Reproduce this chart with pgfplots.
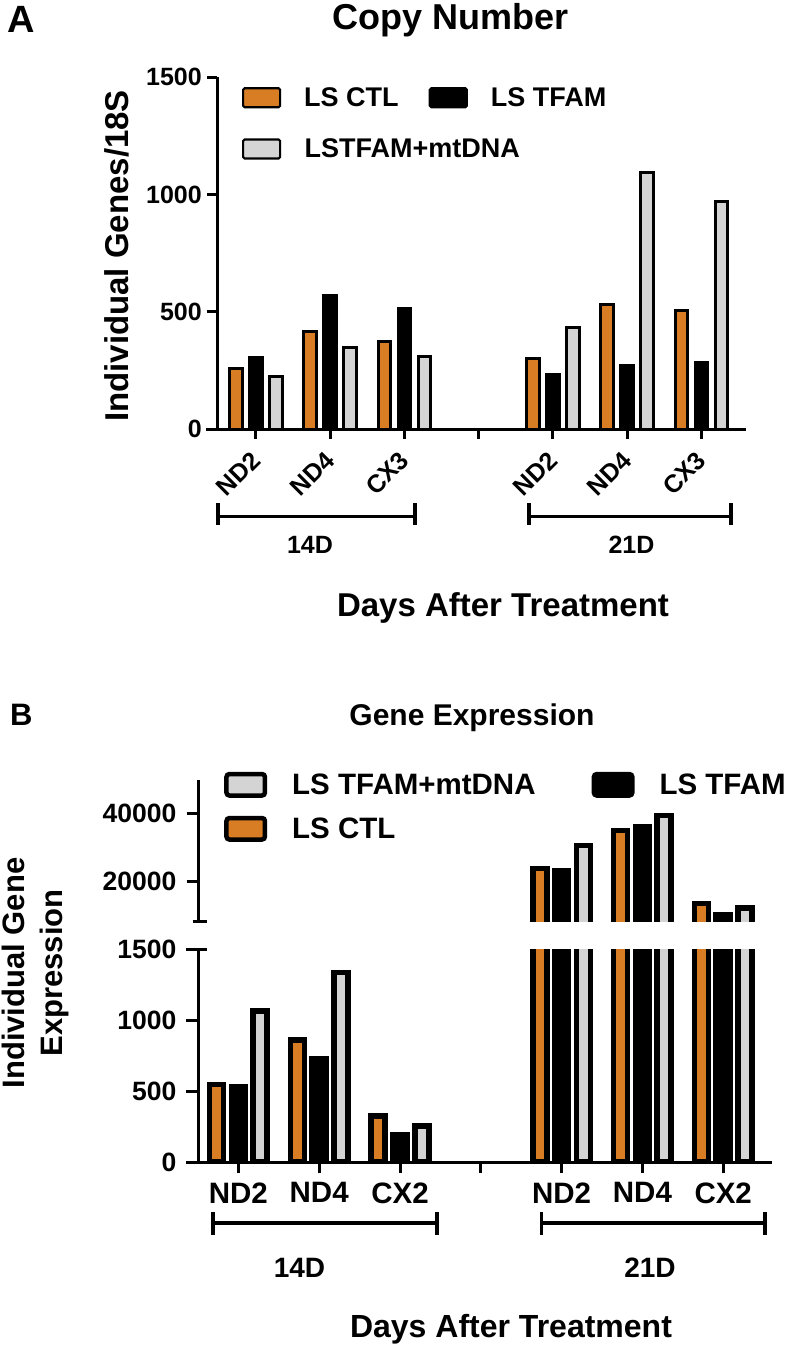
\documentclass[border=0pt]{standalone}
\usepackage{pgfplots}
\pgfplotsset{compat=1.18}
\usepackage{fontspec}
\setmainfont{Liberation Sans}
\definecolor{ctl}{RGB}{216,125,35}
\definecolor{gry}{RGB}{212,212,212}
\newcommand{\fs}[1]{\bfseries\fontsize{#1}{#1}\selectfont}
\pgfplotsset{
  every non boxed x axis/.style={},
  every non boxed y axis/.style={},
  swatchA/.style={legend image code/.code={\draw[##1, line width=2.2pt, rounded corners=1.5pt] (0pt,-9.5pt) rectangle (37pt,9.5pt);}},
  swatchB/.style={legend image code/.code={\draw[##1, line width=4.5pt, rounded corners=3pt] (0pt,-10.75pt) rectangle (38.5pt,10.75pt);}},
  common/.style={
    scale only axis,
    axis line style={-, line width=3pt},
    tick align=outside,
    tick style={line width=3pt, black},
    scaled y ticks=false,
    /pgf/number format/assume math mode=true,
    clip=true,
  },
}
\begin{document}
\begin{tikzpicture}
% ---------------- Panel A ----------------
\begin{axis}[common,
  at={(217pt,-429pt)}, anchor=south west,
  width=529pt, height=351.7pt,
  xmin=-0.525, xmax=6.6, ymin=0, ymax=1500,
  axis x line=bottom, axis y line=left,
  x axis line style={-}, y axis line style={-},
  major tick length=10pt,
  xtick={0,1,2,3,4,5,6}, xticklabels={ND2,ND4,CX3,,ND2,ND4,CX3},
  ytick={0,500,1000,1500}, yticklabels={0,500,1000,1500},
  yticklabel style={font=\fs{25}, anchor=east, inner sep=0pt},
  yticklabel shift=5pt,
  xticklabel style={font=\fs{25}, rotate=45, anchor=east, inner sep=0pt},
  xticklabel shift=17pt,
  ylabel={Individual Genes/18S},
  ylabel style={at={(axis description cs:-0.1664,0.4919)}, anchor=base, font=\fs{33}, inner sep=0pt},
  legend columns=2, legend cell align=left,
  legend style={at={(axis description cs:0.0473,0.972)}, anchor=north west, draw=none, fill=none,
    inner sep=0pt, outer sep=0pt, font=\fs{27}, row sep=30pt, nodes={inner sep=0pt},
    /tikz/every odd column/.append style={column sep=23pt},
    /tikz/every even column/.append style={column sep=30pt}},
]
\addplot[ybar, bar width=0.17, bar shift=-0.27, fill=ctl, draw=black, line width=3pt, swatchA]
  coordinates {(0,258) (1,416) (2,374) (4,299) (5,533) (6,507)};
\addlegendentry{LS CTL}
\addplot[ybar, bar width=0.17, bar shift=0, fill=black, draw=black, line width=3pt, swatchA]
  coordinates {(0,304) (1,570) (2,512) (4,233) (5,271) (6,283)};
\addlegendentry{LS TFAM}
\addplot[ybar, bar width=0.17, bar shift=0.27, fill=gry, draw=black, line width=3pt, swatchA]
  coordinates {(0,223) (1,348) (2,311) (4,435) (5,1096) (6,969)};
\addlegendentry{\makebox[0pt][l]{LSTFAM+mtDNA}}
\end{axis}

% ---------------- Panel B upper ----------------
\begin{axis}[common,
  at={(198pt,-924.5pt)}, anchor=south west,
  width=573.7pt, height=144.9pt,
  xmin=-0.5, xmax=6.6, ymin=7385, ymax=50000,
  axis x line=none, axis y line=left,
  y axis line style={-},
  major tick length=11.5pt,
  xtick=\empty,
  ytick={20000,40000}, yticklabels={20000,40000},
  yticklabel style={font=\fs{26.5}, anchor=east, inner sep=0pt},
  yticklabel shift=10pt,
  legend columns=2, legend cell align=left, reverse legend,
  legend style={at={(axis description cs:0.0457,1.0540)}, anchor=north west, draw=none, fill=none,
    inner sep=0pt, outer sep=0pt, font=\fs{29.5}, row sep=18pt, nodes={inner sep=0pt},
    /tikz/every odd column/.append style={column sep=25pt},
    /tikz/every even column/.append style={column sep=56pt}},
]
\addplot[ybar, bar width=0.173, bar shift=-0.27, fill=ctl, draw=black, line width=5.5pt, swatchB]
  coordinates {(4,23830) (5,35030) (6,13530)};
\addlegendentry{LS CTL}
\addplot[ybar, bar width=0.173, bar shift=0, fill=black, draw=black, line width=5.5pt, swatchB]
  coordinates {(4,23230) (5,36030) (6,10330)};
\addlegendentry{LS TFAM}
\addplot[ybar, bar width=0.173, bar shift=0.27, fill=gry, draw=black, line width=5.5pt, swatchB]
  coordinates {(4,30630) (5,39430) (6,12180)};
\addlegendentry{LS TFAM+mtDNA}
\end{axis}

% ---------------- Panel B lower ----------------
\begin{axis}[common,
  at={(198pt,-1162pt)}, anchor=south west,
  width=573.7pt, height=216pt,
  xmin=-0.5, xmax=6.6, ymin=0, ymax=1527,
  axis x line=bottom, axis y line=left,
  x axis line style={-}, y axis line style={-},
  major tick length=11.5pt,
  xtick={0,1,2,3,4,5,6}, xticklabels={ND2,ND4,CX2,,ND2,ND4,CX2},
  ytick={0,500,1000,1500}, yticklabels={0,500,1000,1500},
  yticklabel style={font=\fs{26.5}, anchor=east, inner sep=0pt},
  yticklabel shift=10pt,
  xticklabel style={font=\fs{29.5}, anchor=north, inner sep=0pt},
  xticklabel shift=9pt,
  ylabel={Individual Gene\\Expression},
  ylabel style={at={(axis description cs:-0.2841,0.875)}, anchor=center, align=center, font=\bfseries\fontsize{31}{38}\selectfont, inner sep=0pt},
]
\addplot[ybar, bar width=0.173, bar shift=-0.27, fill=ctl, draw=black, line width=5.5pt]
  coordinates {(0,549) (1,861) (2,326) (4,23830) (5,35030) (6,13530)};
\addplot[ybar, bar width=0.173, bar shift=0, fill=black, draw=black, line width=5.5pt]
  coordinates {(0,533) (1,733) (2,196) (4,23230) (5,36030) (6,10330)};
\addplot[ybar, bar width=0.173, bar shift=0.27, fill=gry, draw=black, line width=5.5pt]
  coordinates {(0,1066) (1,1341) (2,256) (4,30630) (5,39430) (6,12180)};
\end{axis}

% ---------------- decorations ----------------
\fill[white] (190pt,-921.5pt) rectangle (780pt,-949pt);
\begin{scope}[line width=3pt]
  \draw (206pt,-429pt) -- (218pt,-429pt);
  \draw (186pt,-1162pt) -- (199pt,-1162pt);
  \draw (192.5pt,-921pt) -- (206.5pt,-921pt);
  \draw (186.5pt,-949.8pt) -- (206.5pt,-949.8pt);
\end{scope}
\begin{scope}[line width=3.5pt]
  \draw (218pt,-516.7pt) -- (415pt,-516.7pt);
  \draw (218pt,-503pt) -- (218pt,-525pt);
  \draw (415pt,-503pt) -- (415pt,-525pt);
  \draw (529pt,-516.7pt) -- (731pt,-516.7pt);
  \draw (529pt,-503pt) -- (529pt,-525pt);
  \draw (731pt,-503pt) -- (731pt,-525pt);
  \draw (213pt,-1223pt) -- (437pt,-1223pt);
  \draw (213pt,-1212pt) -- (213pt,-1235pt);
  \draw (437pt,-1212pt) -- (437pt,-1235pt);
  \draw (541.5pt,-1223pt) -- (765pt,-1223pt);
  \draw (541.5pt,-1212pt) -- (541.5pt,-1235pt);
  \draw (765pt,-1212pt) -- (765pt,-1235pt);
\end{scope}
\node[anchor=base, font=\fs{36}, inner sep=0pt] at (451pt,-30pt) {Copy Number};
\node[anchor=base, font=\fs{33}, inner sep=0pt] at (503pt,-616pt) {Days After Treatment};
\node[anchor=base, font=\fs{30}, inner sep=0pt] at (472pt,-725pt) {Gene Expression};
\node[anchor=base, font=\fs{32}, inner sep=0pt] at (511pt,-1337pt) {Days After Treatment};
\node[anchor=base, font=\fs{25}, inner sep=0pt] at (310pt,-553pt) {14D};
\node[anchor=base, font=\fs{25}, inner sep=0pt] at (631.5pt,-553pt) {21D};
\node[anchor=base, font=\fs{28}, inner sep=0pt] at (299.5pt,-1277pt) {14D};
\node[anchor=base, font=\fs{28}, inner sep=0pt] at (650pt,-1277pt) {21D};
\node[anchor=base west, font=\fs{38}, inner sep=0pt] at (7pt,-33pt) {A};
\node[anchor=base west, font=\fs{31}, inner sep=0pt] at (10pt,-725pt) {B};
\pgfresetboundingbox
\path[use as bounding box] (0pt,0pt) rectangle (792pt,-1351pt);
\end{tikzpicture}
\end{document}
